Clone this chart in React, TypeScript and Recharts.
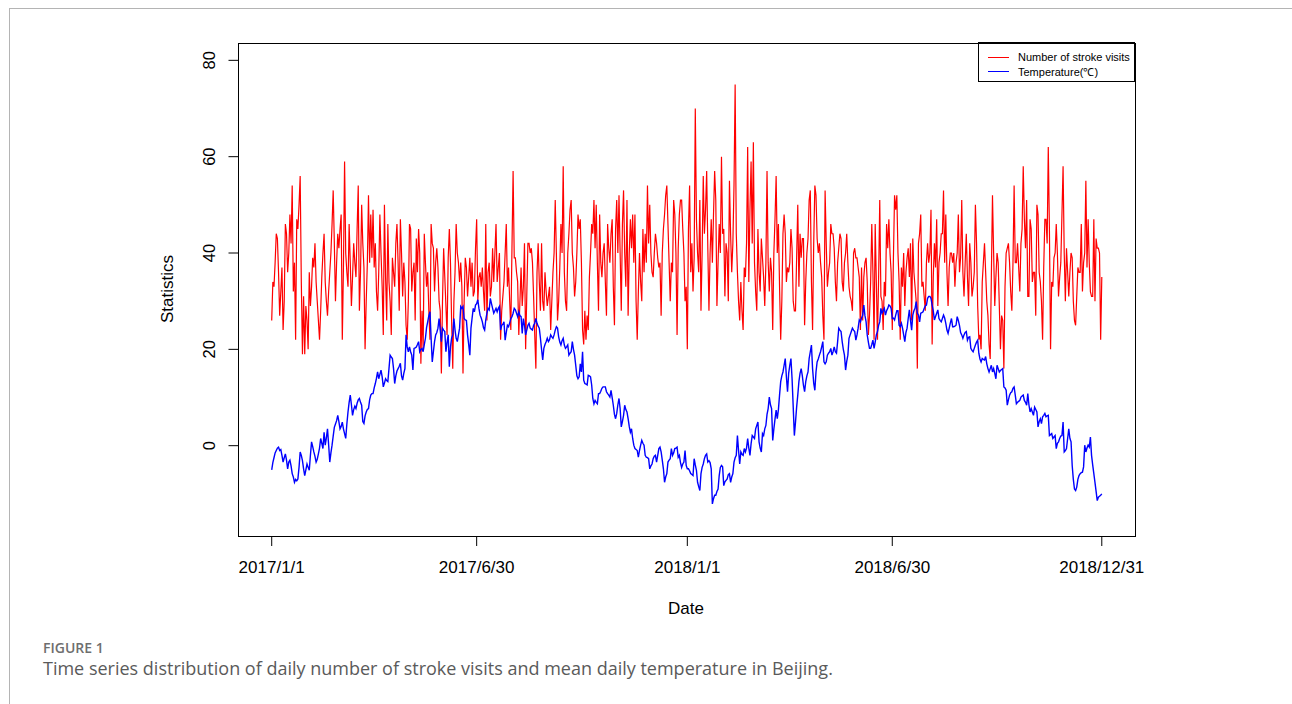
import React from 'react';
import { LineChart, Line, XAxis, YAxis, Legend } from 'recharts';

// x ticks are day offsets from 2017/1/1
const tickDays = [0, 180, 365, 545, 729];
const tickLabels = ['2017/1/1', '2017/6/30', '2018/1/1', '2018/6/30', '2018/12/31'];
const yTicks = [0, 20, 40, 60, 80];

// daily number of stroke visits
const visits2017 = [
  26, 34, 33, 38, 44, 43, 36, 27, 32, 37,
  24, 30, 46, 44, 36, 40, 48, 42, 54, 32,
  38, 22, 47, 45, 50, 56, 34, 19, 31, 19,
  29, 26, 20, 36, 29, 33, 39, 37, 42, 34,
  30, 26, 22, 28, 35, 40, 44, 34, 30, 27,
  32, 36, 40, 46, 53, 42, 30, 38, 44, 41,
  45, 48, 22, 37, 59, 40, 36, 33, 46, 38,
  29, 35, 42, 38, 35, 45, 54, 28, 36, 50,
  42, 37, 20, 30, 38, 52, 38, 48, 39, 49,
  37, 42, 32, 28, 36, 48, 40, 33, 23, 50,
  35, 26, 46, 34, 30, 23, 39, 36, 33, 42,
  46, 38, 28, 47, 40, 31, 38, 34, 25, 22,
  30, 46, 45, 32, 36, 38, 26, 43, 36, 45,
  40, 17, 28, 20, 44, 38, 33, 36, 28, 22,
  46, 42, 41, 32, 38, 41, 37, 30, 28, 15,
  30, 41, 35, 29, 23, 39, 45, 38, 26, 16,
  30, 36, 46, 40, 38, 34, 38, 33, 15, 30,
  39, 37, 31, 35, 39, 33, 38, 31, 32, 41,
  47, 30, 35, 36, 33, 37, 32, 28, 46, 26,
  36, 38, 31, 33, 41, 34, 40, 46, 34, 37,
  40, 22, 28, 31, 34, 40, 46, 33, 37, 30,
  24, 41, 57, 39, 39, 36, 34, 23, 30, 37,
  29, 33, 42, 20, 31, 42, 42, 40, 41, 38,
  31, 23, 16, 36, 42, 34, 28, 42, 30, 28,
  36, 32, 29, 31, 33, 24, 30, 36, 40, 51,
  40, 26, 30, 37, 46, 40, 58, 36, 30, 28,
  40, 44, 49, 51, 40, 37, 31, 34, 40, 48,
  45, 47, 38, 24, 21, 28, 22, 27, 24, 35,
  40, 46, 44, 51, 41, 50, 38, 28, 48, 38,
  35, 40, 42, 34, 27, 46, 41, 38, 44, 47,
  33, 25, 45, 51, 40, 52, 40, 28, 46, 53,
  40, 33, 51, 27, 40, 47, 41, 48, 38, 48,
  30, 22, 32, 40, 34, 30, 45, 36, 44, 38,
  54, 42, 50, 40, 36, 35, 40, 44, 42, 39,
  37, 38, 27, 40, 45, 48, 52, 54, 46, 38,
  30, 38, 36, 51, 48, 40, 23, 41, 48, 51,
  51, 45, 40, 30, 33,
];

const visits2018 = [
  20, 45, 54, 36, 42, 32, 39, 70, 47, 40,
  36, 51, 28, 40, 56, 44, 49, 57, 41, 28,
  40, 47, 38, 48, 57, 51, 29, 38, 46, 40,
  60, 44, 45, 31, 42, 40, 30, 55, 44, 36,
  42, 54, 75, 44, 36, 30, 26, 34, 28, 24,
  37, 35, 42, 62, 34, 49, 59, 42, 63, 38,
  32, 28, 45, 36, 32, 43, 39, 35, 29, 38,
  57, 38, 32, 39, 36, 24, 40, 47, 56, 40,
  46, 33, 22, 30, 44, 48, 44, 34, 37, 36,
  38, 45, 41, 30, 28, 28, 39, 50, 33, 44,
  39, 43, 43, 25, 34, 40, 43, 51, 53, 34,
  24, 42, 54, 52, 43, 40, 42, 38, 35, 27,
  22, 53, 42, 33, 36, 38, 46, 44, 44, 41,
  34, 30, 38, 41, 44, 43, 34, 32, 38, 40,
  44, 38, 33, 31, 30, 28, 40, 41, 39, 39,
  37, 35, 24, 37, 26, 35, 38, 39, 34, 23,
  27, 34, 46, 36, 22, 46, 34, 22, 35, 51,
  31, 30, 24, 34, 31, 46, 41, 47, 40, 36,
  24, 39, 52, 49, 52, 40, 34, 22, 37, 33,
  40, 29, 36, 39, 41, 35, 42, 26, 43, 36,
  33, 30, 16, 42, 44, 48, 33, 34, 31, 28,
  38, 42, 38, 40, 49, 21, 35, 42, 37, 47,
  29, 38, 40, 44, 44, 53, 38, 48, 36, 29,
  37, 40, 40, 38, 40, 33, 38, 40, 48, 36,
  39, 51, 36, 31, 38, 44, 35, 29, 42, 38,
  31, 33, 36, 50, 42, 29, 22, 23, 20, 34,
  38, 42, 36, 30, 27, 21, 18, 35, 52, 40,
  29, 35, 40, 38, 29, 20, 27, 26, 16, 33,
  40, 41, 42, 38, 32, 28, 38, 54, 38, 38,
  42, 37, 32, 42, 45, 58, 47, 41, 51, 31,
  31, 47, 45, 34, 36, 36, 27, 50, 48, 36,
  34, 30, 22, 37, 47, 47, 42, 62, 45, 20,
  34, 33, 39, 40, 46, 40, 31, 35, 38, 48,
  58, 40, 30, 41, 36, 31, 36, 40, 39, 30,
  26, 25, 31, 37, 36, 36, 46, 32, 38, 40,
  55, 37, 47, 38, 32, 31, 31, 47, 30, 43,
  41, 41, 40, 22, 35,
];

// mean daily temperature (°C)
const temp2017 = [
  -5.0, -3.5, -2.5, -1.5, -1.0, -0.5, -0.3, -1.0, -0.8, -2.0,
  -3.4, -2.5, -1.7, -3.0, -4.8, -3.4, -3.0, -4.2, -5.8, -6.5,
  -7.6, -7.0, -7.3, -6.9, -4.5, -1.3, -2.0, -3.1, -4.8, -6.2,
  -5.0, -3.8, -4.5, -5.1, -2.0, 0.8, -0.2, -1.3, -2.2, -3.4,
  -2.8, -1.7, -0.5, 1.5, 0.5, -0.6, 2.8, 0.1, 1.6, 3.5,
  0.2, -3.4, -1.5, 0.1, 2.0, 3.8, 4.5, 5.2, 6.3, 5.0,
  3.5, 4.0, 4.9, 3.5, 2.5, 1.5, 4.5, 7.0, 9.0, 10.5,
  8.5, 6.3, 7.5, 8.2, 7.7, 8.8, 9.5, 9.8, 9.0, 8.4,
  5.0, 4.6, 6.2, 7.0, 7.5, 7.7, 9.5, 10.5, 10.8, 10.8,
  12.0, 12.9, 14.0, 15.3, 13.9, 14.8, 15.7, 14.3, 12.2, 13.0,
  13.9, 13.5, 13.3, 16.0, 18.8, 18.4, 18.1, 16.0, 12.9, 14.5,
  15.5, 16.0, 16.5, 17.1, 14.5, 13.6, 15.0, 16.0, 23.0, 20.5,
  19.5, 20.5, 19.5, 18.8, 15.7, 20.2, 20.3, 20.5, 21.0, 21.6,
  19.5, 20.0, 20.2, 19.5, 21.0, 22.3, 24.5, 25.7, 27.0, 27.8,
  22.3, 17.4, 19.5, 21.6, 23.0, 23.5, 24.4, 26.4, 24.0, 21.6,
  24.4, 24.0, 23.7, 19.5, 21.5, 23.0, 16.4, 20.5, 22.3, 23.0,
  26.4, 24.0, 22.3, 21.6, 23.0, 24.4, 28.9, 28.5, 28.9, 26.4,
  26.1, 26.0, 23.0, 21.0, 18.8, 24.4, 26.5, 28.5, 27.8, 29.2,
  29.5, 30.3, 28.5, 27.1, 26.5, 25.7, 24.5, 24.0, 26.1, 27.5,
  28.5, 28.2, 30.6, 29.5, 28.5, 27.5, 28.0, 28.5, 27.8, 28.5,
  28.9, 24.0, 25.0, 25.2, 25.7, 21.9, 23.5, 25.0, 24.7, 25.5,
  26.4, 26.8, 27.5, 28.5, 28.2, 27.5, 26.8, 27.8, 27.0, 26.8,
  23.3, 26.4, 25.0, 23.0, 24.0, 25.0, 25.4, 24.4, 24.2, 24.0,
  25.0, 25.4, 26.4, 25.4, 24.8, 24.4, 22.3, 20.0, 17.8, 20.2,
  21.0, 21.6, 22.3, 21.6, 22.0, 23.0, 22.6, 22.3, 23.0, 24.0,
  24.7, 24.4, 22.6, 21.5, 20.9, 21.8, 22.3, 20.9, 20.2, 20.5,
  20.9, 18.8, 19.2, 19.5, 21.6, 20.0, 18.8, 16.7, 14.5, 13.9,
  14.3, 17.0, 15.3, 19.5, 13.6, 12.9, 12.8, 12.6, 14.6, 14.5,
  14.3, 12.6, 9.8, 8.7, 9.4, 9.0, 8.7, 10.8, 10.8, 11.3,
  11.9, 12.2, 12.2, 12.2, 11.2, 10.8, 10.5, 10.1, 11.5, 10.0,
  8.4, 6.5, 5.6, 6.7, 8.5, 9.8, 7.7, 3.9, 5.0, 6.3,
  8.4, 7.5, 7.0, 5.6, 4.0, 2.8, 3.5, 1.5, 0.1, -0.6,
  -0.8, -1.0, -2.4, -1.0, 0.1, 1.1, 0.5, 0.1, -2.0, -2.4,
  -2.5, -2.7, -4.8, -4.2, -3.8, -2.7, -2.2, -2.0, -3.4, -2.0,
  -0.6, -0.3, -1.3, -3.0, -4.8, -7.6, -6.5, -5.8, -3.4, -3.0,
  -2.7, -0.6, -2.0, -1.5, -0.6, -0.5, -0.3, -2.4, -2.0, -3.5,
  -4.5, -3.8, -3.4, -1.0, -4.1,
];

const temp2018 = [
  -4.8, -4.8, -5.2, -5.8, -6.0, -6.2, -2.7, -4.0, -5.1, -7.6,
  -8.5, -9.3, -5.8, -4.5, -3.8, -2.7, -2.0, -1.7, -3.4, -3.1,
  -3.5, -4.8, -12.1, -11.0, -10.3, -10.3, -9.5, -9.0, -6.2, -4.5,
  -4.1, -4.4, -8.3, -7.5, -7.2, -6.9, -6.0, -5.8, -7.6, -6.5,
  -5.8, -3.4, -2.5, -2.0, 2.1, -1.0, -3.8, -1.3, -1.8, -2.0,
  -0.6, -1.3, -0.5, 1.5, -0.5, -2.0, 0.4, 2.1, 1.8, 1.5,
  3.5, 4.2, 4.9, 0.8, -0.5, -1.3, 2.5, 2.1, 3.5, 4.2,
  6.5, 7.7, 10.1, 8.5, 7.7, 1.1, 3.5, 5.5, 7.4, 5.6,
  7.5, 10.5, 13.3, 14.5, 15.3, 16.7, 18.1, 14.3, 11.2, 15.0,
  16.7, 18.1, 13.9, 8.0, 2.1, 4.9, 8.0, 10.5, 13.3, 15.0,
  16.0, 14.5, 12.5, 11.2, 13.3, 14.5, 15.3, 18.1, 19.5, 20.9,
  16.0, 13.0, 11.5, 15.3, 17.4, 18.0, 18.8, 19.5, 20.5, 21.6,
  17.4, 17.0, 17.4, 18.8, 19.2, 19.5, 20.2, 18.8, 19.5, 20.5,
  19.5, 19.2, 21.6, 24.4, 24.0, 23.7, 21.6, 20.0, 18.8, 15.7,
  17.5, 18.8, 22.3, 23.0, 23.7, 24.4, 24.0, 23.7, 21.9, 23.0,
  24.4, 26.1, 25.7, 26.5, 27.1, 29.2, 27.0, 25.7, 23.0, 21.5,
  20.2, 20.2, 21.0, 21.9, 20.2, 21.5, 23.0, 23.7, 25.0, 25.7,
  28.5, 27.5, 28.0, 28.5, 27.1, 28.0, 28.5, 29.2, 29.0, 28.5,
  26.4, 26.5, 26.1, 27.1, 28.0, 28.0, 25.0, 24.7, 25.4, 24.4,
  23.0, 21.6, 23.5, 24.4, 26.4, 28.2, 26.0, 24.0, 27.1, 28.0,
  28.5, 29.9, 27.5, 27.1, 25.7, 27.5, 27.6, 27.8, 28.5, 29.0,
  29.2, 30.6, 31.0, 31.0, 30.6, 29.2, 28.0, 26.1, 26.8, 27.5,
  28.2, 26.4, 26.0, 25.7, 26.4, 27.1, 26.5, 25.4, 24.0, 23.3,
  24.4, 25.5, 26.4, 24.7, 24.7, 24.8, 25.0, 26.8, 26.0, 25.0,
  23.5, 23.0, 22.3, 23.0, 23.5, 23.7, 21.9, 22.5, 22.6, 20.2,
  19.8, 19.5, 20.2, 20.9, 21.5, 21.9, 19.2, 18.0, 17.4, 18.1,
  17.9, 17.8, 18.5, 17.0, 16.0, 15.3, 16.0, 16.7, 15.3, 16.0,
  15.0, 13.9, 16.7, 16.0, 15.3, 15.6, 15.8, 16.0, 12.2, 12.0,
  11.5, 8.4, 9.5, 10.5, 11.0, 11.2, 11.9, 12.2, 10.5, 8.7,
  9.0, 9.2, 9.4, 10.1, 10.3, 10.5, 9.4, 9.0, 8.4, 10.8,
  8.5, 7.0, 7.7, 7.0, 6.3, 8.0, 7.5, 7.0, 3.9, 5.0,
  5.6, 4.6, 6.0, 6.3, 6.7, 6.0, 6.2, 6.3, 2.1, 2.3,
  2.5, 1.5, 1.8, 2.1, -0.6, 0.5, 0.8, 1.5, 2.0, 2.1,
  4.9, -1.3, -1.0, -0.6, 1.5, 3.5, 1.5, 0.8, -4.1, -7.0,
  -9.0, -9.3, -8.6, -7.0, -6.2, -5.8, -5.6, -5.5, -4.4, 0.1,
  -1.3, -0.5, 0.1, -0.3, 1.8, -2.0, -4.0, -5.8, -7.6, -9.5,
  -11.4, -10.7, -10.5, -10.3, -10.0,
];

const visits = [...visits2017, ...visits2018];
const temps = [...temp2017, ...temp2018];
const rows = visits.map((v, i) => ({ day: i, visits: v, temp: temps[i] }));

const FONT = '"Liberation Sans", Arial, Helvetica, sans-serif';

// R style: y tick labels are written vertically
const YTick = (props: any) => {
  const { x, y, payload } = props;
  return (
    <text
      x={x}
      y={y}
      transform={`rotate(-90, ${x}, ${y})`}
      textAnchor="middle"
      fontSize={16.5}
      fontFamily={FONT}
      fill="#000"
    >
      {payload.value}
    </text>
  );
};

const LegendBox = () => (
  <div
    style={{
      width: 157,
      height: 40,
      boxSizing: 'border-box',
      border: '1px solid #000',
      background: '#fff',
      fontFamily: FONT,
      fontSize: 11,
      color: '#000',
      paddingTop: 7,
    }}
  >
    {[
      { name: 'Number of stroke visits', color: '#ff0000' },
      { name: 'Temperature(℃)', color: '#0000ff' },
    ].map((item) => (
      <div key={item.name} style={{ display: 'flex', alignItems: 'center', height: 14 }}>
        <span style={{ display: 'inline-block', width: 21, height: 1, background: item.color, marginLeft: 9, marginRight: 9 }} />
        <span>{item.name}</span>
      </div>
    ))}
  </div>
);

export default function App() {
  return (
    <div style={{ position: 'absolute', left: 0, top: 0, width: 1292, height: 704, background: '#fff', overflow: 'hidden' }}>
      <div
        style={{
          position: 'absolute',
          left: 9,
          top: 8,
          width: 1300,
          height: 720,
          borderLeft: '1px solid #b4b4b4',
          borderTop: '1px solid #b4b4b4',
        }}
      />
      <div style={{ position: 'absolute', left: 0, top: 0 }}>
        <LineChart width={1292} height={600} data={rows} margin={{ top: 43, right: 157, bottom: 0, left: 0 }}>
          <XAxis
            type="number"
            dataKey="day"
            domain={[-29.16, 758.16]}
            allowDataOverflow
            ticks={tickDays}
            interval={0}
            tickFormatter={(v: number) => tickLabels[tickDays.indexOf(v)]}
            height={64}
            axisLine={false}
            tickSize={10}
            tickMargin={15}
            tickLine={{ stroke: '#000' }}
            tick={{ fontSize: 17, fill: '#000', fontFamily: FONT }}
          />
          <YAxis
            type="number"
            domain={[-18.75, 83.6]}
            allowDataOverflow
            ticks={yTicks}
            interval={0}
            width={238.5}
            axisLine={false}
            tickSize={10}
            tickMargin={13}
            tickLine={{ stroke: '#000' }}
            tick={<YTick />}
          />
          <Legend
            layout="horizontal"
            verticalAlign="middle"
            align="center"
            content={<LegendBox />}
            wrapperStyle={{ position: 'absolute', left: 978, top: 42, width: 157, height: 40 }}
          />
          <Line
            type="linear"
            dataKey="visits"
            name="Number of stroke visits"
            stroke="#ff0000"
            strokeWidth={1.2}
            dot={false}
            activeDot={false}
            isAnimationActive={false}
          />
          <Line
            type="linear"
            dataKey="temp"
            name="Temperature(℃)"
            stroke="#0000ff"
            strokeWidth={1.4}
            dot={false}
            activeDot={false}
            isAnimationActive={false}
          />
        </LineChart>
      </div>
      {/* plot frame */}
      <div
        style={{
          position: 'absolute',
          left: 238,
          top: 43,
          width: 898,
          height: 494,
          boxSizing: 'border-box',
          border: '1px solid #000',
          pointerEvents: 'none',
        }}
      />
      <div
        style={{
          position: 'absolute',
          left: 586,
          top: 599,
          width: 200,
          textAlign: 'center',
          fontFamily: FONT,
          fontSize: 17,
          color: '#000',
        }}
      >
        Date
      </div>
      <div
        style={{
          position: 'absolute',
          left: 168,
          top: 289,
          transform: 'translate(-50%, -50%) rotate(-90deg)',
          fontFamily: FONT,
          fontSize: 17,
          color: '#000',
          whiteSpace: 'nowrap',
        }}
      >
        Statistics
      </div>
      <div
        style={{
          position: 'absolute',
          left: 43,
          top: 638,
          fontFamily: '"Open Sans", "Noto Sans", sans-serif',
          fontWeight: 600,
          fontSize: 14,
          color: '#6e6e6e',
        }}
      >
        FIGURE 1
      </div>
      <div
        style={{
          position: 'absolute',
          left: 43,
          top: 656,
          fontFamily: '"Open Sans", "Noto Sans", sans-serif',
          fontSize: 18,
          color: '#5a5a5a',
          whiteSpace: 'nowrap',
        }}
      >
        Time series distribution of daily number of stroke visits and mean daily temperature in Beijing.
      </div>
    </div>
  );
}
